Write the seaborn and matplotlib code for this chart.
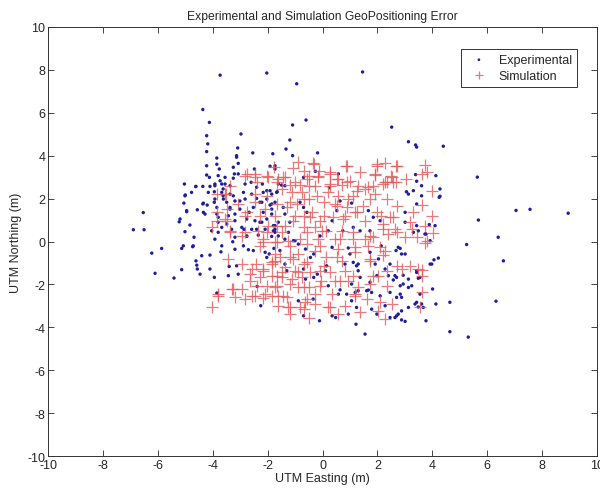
import numpy as np
import pandas as pd
import matplotlib
matplotlib.use("Agg")
import matplotlib.pyplot as plt
import seaborn as sns

# positions (metres)
exp_x = [-3.73, -2.03, -4.36, -4.12, -4.22, -4.18, -4.22, -2.97, -3.85, -3.09, -3.13, -2.54, -1.81, -4.22, -3.85, -3.76, -3.25, -3.07,
         -4.22, -4.12, -3.80, -3.55, -3.07, -2.48, -5.03, -4.61, -4.36, -4.10, -3.92, -5.0, -3.62, -3.37, -2.82, -2.60, -2.40, -2.19,
         -2.03, -1.67,
         1.46, -0.94, -1.09, -0.60, 2.52, 3.13, 3.39, 3.43, -1.19, -1.33, -1.09, -0.18, -1.73, 3.39, 3.43, 3.61, 0.58, -0.26, -0.69,
         3.06, -1.49, -1.65,
         4.40, 5.64, 4.13, 4.28, 4.28,
         7.05, 7.56, 8.95, 5.68, 6.40, 5.25, 6.59, 4.22, 4.06, 3.92, 4.01, 6.32, 4.64, 4.13, 3.61, 3.67, 3.77, 4.64, 5.31, 3.89, 3.77, 4.25,
         -6.53, -6.89, -6.50, -5.01, -5.05, -5.19, -5.22, -4.83, -4.95, -4.56, -4.36, -4.20, -4.34, -5.01, -4.68, -5.86, -6.22, -5.07,
         -5.13, -4.73, -6.10, -5.41, -5.13, -4.61, -4.58, -4.56, -4.40, -4.10, -4.10, -4.46, -3.94, -3.70, -3.80, -3.85, -3.94, -3.80,
         -3.85, -3.62, -3.43, -3.40, -3.07, -3.13, -3.27, -3.19, -2.88, -2.70, -2.52, -2.09, -1.94, -1.77, -2.03, -2.38, -2.25, -2.86,
         -2.76, -3.25, -3.01, -2.28, -1.91, -3.37, -3.19, -2.67, -2.28, -2.03, -1.79, -1.73, -3.49, -2.40, -1.85,
         -3.13, -3.73, -3.67, -3.25, -3.21, -1.91, -1.73, -4.62, -3.92, -3.55, -1.61, -1.37, -4.77, -4.16, -3.94, -3.67, -3.37, -2.88,
         -2.58, -2.16, -1.91, -3.92, -3.61, -3.49, -3.19, -2.82, -2.40, -2.21, -2.03, -1.73, -4.34, -3.85, -3.37, -3.01, -2.52, -1.85,
         -2.16, -4.95, -4.28, -3.80, -3.43, -3.19, -2.76, -2.46, -2.21, -1.61, -3.67, -3.31, -2.94, -2.58, -2.09, -1.73, -4.04, -3.19,
         -2.76, -2.34, -1.85, -1.37, -1.06, -1.24, -1.61, -3.92, -3.67, -4.71,
         -1.85, -1.73, -1.79, -1.37, -1.19, -1.0, -0.88, -1.55, -1.37, -1.30, -0.62, -0.32, -0.44, -0.69, -0.62, -0.19, 0.11, 0.35,
         -0.09, 0.21, 0.35, 0.64, 1.06, 1.67, 1.12, 1.37, 1.73, 0.74, 1.0, 1.73, 2.46, 2.14, 2.68, 3.01, 2.83, 3.13, 3.43, 3.01, 3.31,
         3.73, 3.43, 2.64, 2.94, 3.43, 3.49, 3.13, 2.83, 3.13, 3.25, 2.88, 2.46, 2.83, 3.43, 2.70, 2.88, 2.10, 1.79, 1.61, 1.30, 1.06,
         1.24, 1.22, 1.55, 0.35, 0.48, -0.11, -0.69, 0.58, 0.64, 0.21, -0.34, -0.88, 1.98, 2.28, 0.82, 1.30, 1.98, 1.73, 2.40, 3.13,
         -1.85, -1.43, -0.82, -0.69, -0.57,
         3.98, 3.43, 3.55, 3.55, 2.94, 2.70, 2.58, 2.70, 3.37, 3.49, 2.88, 2.76, 3.01, 2.64, 2.46, 1.79, 0.94, 1.19, 0.88, 1.67, 1.37,
         1.30, 1.06, 2.04, 2.28, 1.92, 2.88, 2.76, 0.94, 1.12, 1.24, 0.15, -0.32,
         3.31, 3.61, 3.49, 4.10, 3.92, 0.25, 0.52, 1.85, 2.10, 3.01]
exp_y = [7.75, 7.85, 6.15, 5.55, 4.93, 4.55, 4.19, 5.01, 3.89, 4.36, 3.93, 4.13, 4.09, 3.53, 3.60, 3.38, 3.46, 3.64,
         3.10, 2.99, 3.07, 2.99, 3.15, 3.38, 2.68, 2.57, 2.57, 2.57, 2.68, 2.17, 2.45, 2.60, 2.68, 2.76, 2.53, 2.68,
         2.37, 2.29,
         7.9, 7.35, 5.43, 5.66, 5.33, 4.65, 4.50, 4.40, 4.73, 4.31, 4.00, 4.13, 3.53, 3.12, 2.81, 2.60, 3.15, 3.27, 2.99,
         2.32, 2.63, 2.32,
         4.44, 3.0, 3.07, 2.45, 2.11,
         1.45, 1.50, 1.32, 1.0, 0.20, -0.14, -0.90, -0.77, -0.85, -1.05, -2.21, -2.78, -2.83, -2.91, -2.91, -3.07, -3.69, -4.20, -4.45, 0.79, 0.35, 2.06,
         1.35, 0.55, 0.55, 2.13, 1.79, 1.05, 0.92, 0.77, 1.39, 1.48, 1.75, 1.70, 1.36, 0.46, 0.20, -0.32, -0.54, -0.20,
         -0.32, -0.24, -1.48, -1.70, -1.31, -0.90, -1.10, -1.28, -0.66, -0.63, -1.28, -1.52, -1.67, -0.48, 0.43, -2.40, 1.83, 0.90,
         1.28, 2.13, -1.59, -1.16, -1.52, -1.13, -0.01, -0.36, -0.20, -0.38, -0.42, -0.50, -0.58, -0.32, -0.74, -2.09, -2.99, 0.57,
         0.26, 2.13, 1.89, 1.83, 1.70, 1.51, 1.28, 1.36, 0.90, 1.05, 0.74, 0.43, 0.82, 0.57, 2.21,
         4.0, 2.83, 2.68, 2.95, 3.15, 3.51, 3.38, 2.56, 2.60, 2.68, 2.68, 2.60, 2.29, 2.29, 2.32, 2.29, 2.21, 2.29,
         2.21, 2.29, 2.37, 1.98, 1.98, 1.83, 1.89, 1.98, 2.01, 1.83, 1.98, 1.83, 1.79, 1.59, 1.59, 1.51, 1.59, 1.51,
         1.36, 1.44, 1.28, 1.13, 1.20, 0.97, 1.05, 0.97, 0.90, 0.90, 0.66, 0.57, 0.66, 0.57, 0.57, 0.57, 0.50, 0.20,
         0.24, 0.30, 0.24, 0.11, 0.04, 0.43, 0.26, 0.11, -0.20, -0.20,
         1.75, 0.74, 0.50, 1.28, 0.90, 0.04, -0.12, -0.42, -1.05, -1.36, -0.35, -0.58, -0.74, -1.28, -1.75, -1.52, -1.36, -0.27,
         0.26, 0.50, 0.97, 1.89, 1.79, 1.44, 0.66, 0.50, 0.50, 0.50, -0.58, -0.50, -1.05, -0.20, -0.42, -0.58, -0.32, 2.21, 1.75, 0.90, 0.43,
         0.35, 0.74, -1.59, -1.57, -1.36, -1.71, -1.75, -2.06, -2.14, -2.06, -2.60, -2.37, -2.45, -2.83, -3.46, -3.65, -2.53, -2.37, -2.29, -2.29, -2.76,
         -3.07, -3.85, -4.31, -3.46, -3.54, -3.69, -3.46, -2.45, -2.25, -2.06, -2.68, -2.76, -3.38, -2.99, -1.05, -1.05, -1.59, -1.90, -1.59, -3.07,
         1.28, 1.59, 1.83, 1.59, 1.36,
         -1.05, -1.44, -1.67, -2.45, -1.98, -1.67, -1.79, -2.60, -2.91, -3.05, -3.23, -3.38, -3.72, -3.54, -3.54, -3.15, -3.38, -2.37, -2.45, -2.26, -1.67,
         -1.36, -1.98, -0.81, -1.28, -1.05, -0.58, -0.27, -0.30, -0.97, -1.13, -1.13, -1.67,
         2.37, 2.13, 0.50, 0.74, 0.04, 2.52, 1.44, 1.13, 0.97, 1.36]

sim_x = [-0.88, -0.34, 0.86, 2.28, 1.98, 2.68, 3.73, -1.06, -0.69, -0.11, 1.37, 1.92, 0.27, -1.43, -0.15, 0.58, 1.0, 2.49, 2.35,
         3.06, 3.80, -1.19, -0.82, -0.27, 0.27, 0.70, 1.30, 1.67, 2.21, -1.65, 2.68, 3.61,
         -2.82, -2.46, -2.40, -1.97, -1.77, -3.37, -3.85, -3.52, -2.03,
         3.98, 3.61, 3.98, 4.04, 3.80, 3.73, 3.61, 3.61, 3.61,
         -3.49, -3.07, -2.46, -3.37, -2.82, -2.16, -2.28, -3.43, -2.94, -2.42, -2.18, -1.85, -3.25, -3.80, -3.19, -2.82, -2.58, -2.18,
         -4.04, -1.85, -1.67, -1.67, -2.03, -2.40, -1.67, -2.64, -2.76,
         -2.76, -2.46, -2.03, -1.37, -1.61, -0.57, -1.0, -0.76, -1.12, -1.49, -2.46, -3.55, -3.85, -3.49, -2.82, -2.09, -1.73, -1.30,
         -0.94, -1.06, -0.69, -0.69, -1.37, -1.97, -2.34, -3.55, -3.85, -3.37, -2.94, -2.16, -1.73, -1.24, -0.82, -4.04, -2.28,
         -0.30, -0.15, 0.27, 0.88, 1.98, 2.70, 1.92, 2.52, 2.28, 2.58, -0.51, -0.51, 0.27, 0.52, 0.88, 1.24, 1.55, 1.85, 1.92, -0.19,
         0.21, 0.58, 0.94, -0.51, 0.04, 0.46, 0.88, 1.19, 1.49, -0.40, -0.09, 0.40, 0.82, 1.55, 2.14, 2.58, 2.21, 2.64, 3.25, 3.19,
         3.43, 3.73, 3.01, 1.85, 1.55, 1.12, 0.70, 0.11, -0.27, -0.15, 0.46, 2.40,
         -2.58, -2.16, -1.85, -1.55, -1.73, -1.19, -1.37, -1.0, -0.76, -1.12, -1.49, -1.85, -2.28, -2.64, -2.94, -3.31, -3.80, -2.46,
         -2.09, -1.61, -1.30, -1.73, -2.03, -1.24, -1.61, -0.82, -1.19, -0.62, -0.88, -0.69, -0.88,
         -0.27, 0.11, 0.70, 0.58, 1.19, 1.73, 2.10, 2.28, 1.67, -0.57, -0.44, -0.09, 0.27, 0.82, 2.04, 2.35, 2.88, 3.49, -0.06, 0.46,
         0.94, 1.30, 1.73, 2.35, -0.51, -0.27, 0.35, 1.19, 1.61, 2.10, 2.52, -0.51, 0.21, 0.82, 1.37, 2.04, 2.28, -0.27, 0.58,
         -1.67, -1.19, -0.69, -1.0, -0.44, 0.04, -0.02, -0.57, -1.49, -1.67, -1.19, -0.57, -0.09, -1.73, -1.06, -1.49, -0.88, -1.19,
         -0.69, -1.43, -0.57, -1.19, -0.69, 0.27, 1.20, 0.52, 1.73, 1.20, 0.64, 1.12, 1.73, 2.21, 2.70, 0.76, 1.24, 1.98, 2.46, 0.52,
         1.12, 1.73, 2.35, 2.70, 3.31, 2.21, 2.70, 3.19, 1.85, 0.64, -0.09, 1.12, 0.04, 3.55]
sim_y = [3.69, 3.66, 3.51, 3.66, 3.53, 3.51, 3.57, 3.41, 3.30, 3.30, 3.23, 3.10, 3.15, 2.99, 2.99, 2.91, 2.83, 3.04, 2.79,
         2.91, 3.23, 2.63, 2.63, 2.60, 2.68, 2.63, 2.60, 2.53, 2.68, 2.76, 2.76, 3.15,
         3.07, 2.99, 2.76, 2.99, 3.49, 2.60, 2.21, 2.21, 2.13,
         2.37, 1.70, 1.20, 0.40, 0.04, -0.07, -1.31, -1.59, -2.37,
         0.97, 1.75, 1.83, 0.43, 0.43, -0.04, -0.20, -0.81, -1.05, -1.05, -1.36, -1.05, -2.21, -2.53, -2.60, -2.68, -2.53, -2.65,
         -3.07, -2.53, -1.59, 0.74, 0.43, -2.06, -2.06, -1.52, 1.36,
         3.15, 3.15, 3.07, 2.99, 2.91, 2.91, 2.76, 2.29, 2.29, 2.45, 2.21, 2.21, 1.36, 1.51, 1.20, 1.51, 1.20, 1.59,
         1.75, 0.97, 1.20, 0.66, 0.74, 0.74, 0.50, 1.05, 0.97, 0.50, 0.26, 0.11, -0.04, 0.04, 0.11, 0.66, 1.20,
         3.61, 3.07, 3.23, 3.53, 3.61, 3.53, 3.15, 2.99, 2.76, 2.76, 2.60, 3.07, 2.60, 2.91, 2.76, 2.37, 2.45, 2.60, 2.21, 2.13,
         2.29, 2.13, 1.98, 1.98, 1.83, 1.75, 1.59, 1.36, 1.67, 1.36, 0.97, 1.13, 1.20, 0.97, 1.20, 1.13, 0.82, 0.57, 0.57, 0.90,
         0.20, 0.74, 0.20, 0.20, 0.11, 0.43, 0.50, 0.50, 0.66, 0.11, 0.11, 0.35,
         -1.28, -1.28, -0.97, -0.74, -0.58, -0.74, -1.20, -1.36, -1.67, -1.75, -1.67, -1.59, -1.67, -1.83, -2.21, -2.21, -2.45, -2.53,
         -2.45, -2.53, -2.60, -2.14, -2.06, -3.07, -2.99, -3.07, -3.38, -2.83, -2.14, -1.05, -0.58,
         -0.42, -0.74, -0.90, -0.35, -0.50, -0.90, -0.27, -0.42, -0.20, -0.97, -1.44, -1.36, -1.44, -1.36, -1.59, -1.36, -1.28, -1.28, -1.83, -1.83,
         -1.83, -2.14, -1.98, -2.06, -2.14, -2.45, -2.45, -2.45, -2.68, -2.83, -2.91, -3.54, -3.07, -2.99, -3.30, -3.23, -3.61, -2.91, -3.38,
         1.75, 1.83, 1.98, 1.20, 1.13, 1.20, 0.50, 0.43, 0.43, -0.04, -0.20, -0.12, -0.20, -0.90, -0.81, -1.44, -1.44, -1.98,
         -2.14, -2.53, -2.68, -3.07, -3.15, -3.07, -2.53, -0.74, -0.81, -0.27, 0.11, 0.11, 0.26, 0.57, 0.43, 1.05, 1.36, 1.36, 1.13, 1.67,
         2.13, 1.98, 1.98, 1.67, 1.36, -0.63, -1.13, -1.13, -1.59, -1.83, -2.06, -1.59, -1.13, -3.07]

exp = pd.DataFrame({'x': exp_x, 'y': exp_y})
sim = pd.DataFrame({'x': sim_x, 'y': sim_y})

sns.set_style('ticks')
plt.rcParams['font.family'] = ['Liberation Sans', 'DejaVu Sans']
plt.rcParams['axes.unicode_minus'] = False

fig = plt.figure(figsize=(6, 4.89), dpi=100)
ax = fig.add_axes([0.08, 0.065, 0.915, 0.878])

sns.scatterplot(data=exp, x='x', y='y', ax=ax, marker='o', s=6, color='#1f1f9c',
                edgecolor='none', label='Experimental')
sns.scatterplot(data=sim, x='x', y='y', ax=ax, marker='+', s=65, color='#e25a5a',
                linewidth=0.9, alpha=0.8, label='Simulation')

ax.set_xlim(-10, 10)
ax.set_ylim(-10, 10)
ax.set_xticks(np.arange(-10, 11, 2))
ax.set_yticks(np.arange(-10, 11, 2))
ax.tick_params(direction='in', top=True, right=True, labelsize=9, length=4, width=0.6, pad=2)
for s in ax.spines.values():
    s.set_visible(True)
    s.set_linewidth(0.7)
    s.set_color('#333333')

ax.set_title('Experimental and Simulation GeoPositioning Error', fontsize=8.7, pad=6)
ax.set_xlabel('UTM Easting (m)', fontsize=9, labelpad=1)
ax.set_ylabel('UTM Northing (m)', fontsize=9, labelpad=4)

leg = ax.legend(loc='upper right', bbox_to_anchor=(0.975, 0.963), fontsize=9, frameon=True,
                fancybox=False, edgecolor='#333333', framealpha=1, borderpad=0.4,
                handletextpad=0.6, labelspacing=0.3, markerscale=0.8)
leg.get_frame().set_linewidth(0.7)

fig.savefig('out.png', dpi=100)
